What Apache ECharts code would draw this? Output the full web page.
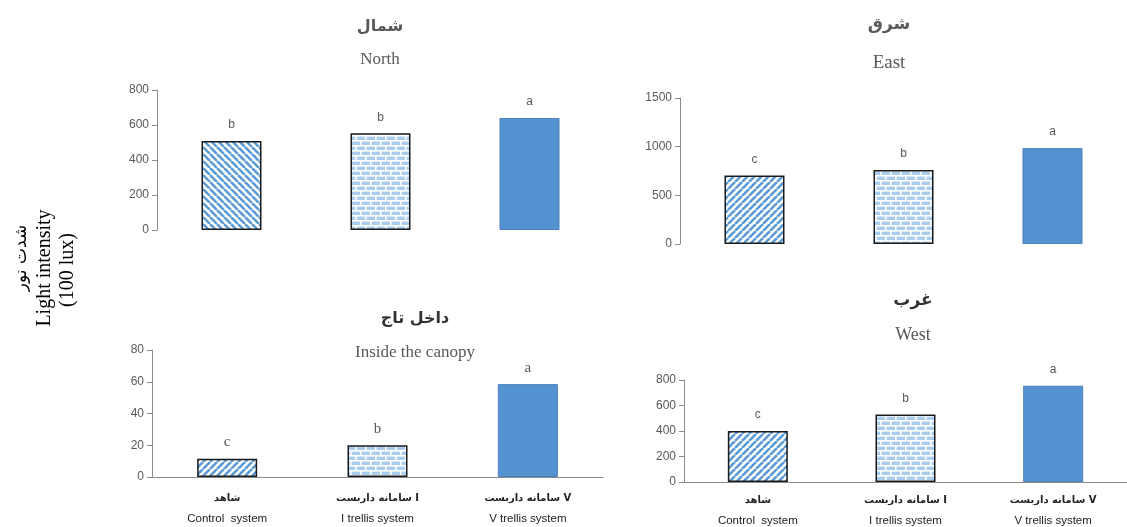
<!DOCTYPE html>
<html><head><meta charset="utf-8">
<script src="https://cdn.jsdelivr.net/npm/echarts@6/dist/echarts.min.js"></script>
<style>html,body{margin:0;padding:0;background:#fff}#c{width:1127px;height:527px}</style>
</head><body><div id="c"></div>
<script>
// ---- data ----
const categoriesFa = ['شاهد', 'سامانه داربست I', 'سامانه داربست V'];
const categoriesEn = ['Control  system', 'I trellis system', 'V trellis system'];
const northValues = [508, 553, 640];
const northLetters = ['b', 'b', 'a'];
const eastValues = [705, 760, 985];
const eastLetters = ['c', 'b', 'a'];
const canopyValues = [11.5, 20, 58.5];
const canopyLetters = ['c', 'b', 'a'];
const westValues = [400, 530, 755];
const westLetters = ['c', 'b', 'a'];
const northTicks = {min: 0, max: 800, interval: 200};
const eastTicks = {min: 0, max: 1500, interval: 500};
const canopyTicks = {min: 0, max: 80, interval: 20};
const westTicks = {min: 0, max: 800, interval: 200};

// ---- patterns ----
function stripes(dir) {
  const s = 7, c = document.createElement('canvas');
  c.width = s; c.height = s;
  const g = c.getContext('2d');
  g.fillStyle = '#ffffff'; g.fillRect(0, 0, s, s);
  g.strokeStyle = '#5b9bd5'; g.lineWidth = 2.6;
  for (const o of [-s, 0, s]) {
    g.beginPath();
    if (dir === 'back') { g.moveTo(o, 0); g.lineTo(o + s, s); }
    else { g.moveTo(o, s); g.lineTo(o + s, 0); }
    g.stroke();
  }
  return {image: c, repeat: 'repeat'};
}
function bricks() {
  const w = 20, h = 10, c = document.createElement('canvas');
  c.width = w; c.height = h;
  const g = c.getContext('2d');
  g.fillStyle = '#aacdee'; g.fillRect(0, 0, w, h);
  g.fillStyle = '#ffffff';
  g.fillRect(0, 0, w, 1.6); g.fillRect(0, 5, w, 1.6);
  g.fillRect(0, 0, 1.6, 5); g.fillRect(10, 0, 1.6, 5);
  g.fillRect(5, 5, 1.6, 5); g.fillRect(15, 5, 1.6, 5);
  return {image: c, repeat: 'repeat'};
}
const solidStyle = {color: '#5592d2', borderColor: '#4a7fb8', borderWidth: 1};
function styles(dir) {
  return [
    {color: stripes(dir), borderColor: '#1a1a1a', borderWidth: 1.5},
    {color: bricks(), borderColor: '#1a1a1a', borderWidth: 1.5},
    solidStyle
  ];
}

const gray = '#595959';
const grids = [
  {left: 157, top: 90, width: 447, height: 140},
  {left: 680, top: 98, width: 449, height: 146},
  {left: 152, top: 350, width: 451, height: 127},
  {left: 684, top: 380, width: 449, height: 103}
];
const tickSets = [northTicks, eastTicks, canopyTicks, westTicks];
const valueSets = [northValues, eastValues, canopyValues, westValues];
const letterSets = [northLetters, eastLetters, canopyLetters, westLetters];
const dirs = ['back', 'fwd', 'fwd', 'fwd'];

const xAxes = grids.map((g, i) => ({
  type: 'category', gridIndex: i, data: categoriesEn,
  axisLine: {show: i >= 2, lineStyle: {color: '#8c8c8c', width: 1}},
  axisTick: {show: false},
  axisLabel: i >= 2 ? {
    interval: 0, margin: i === 2 ? 10 : 7,
    formatter: (v, idx) => '{fa|' + categoriesFa[idx] + '}\n{en|' + v + '}',
    rich: {
      fa: {fontFamily: 'DejaVu Sans', fontSize: 10, fontWeight: 'bold', color: '#222', lineHeight: 22},
      en: {fontFamily: 'Liberation Sans', fontSize: 11.5, color: '#222', lineHeight: 20}
    }
  } : {show: false}
}));
const yAxes = grids.map((g, i) => ({
  type: 'value', gridIndex: i, min: tickSets[i].min, max: tickSets[i].max, interval: tickSets[i].interval,
  splitLine: {show: false},
  axisLine: {show: true, lineStyle: {color: '#8c8c8c', width: 1}},
  axisTick: {show: true, length: 5, lineStyle: {color: '#8c8c8c'}},
  axisLabel: {color: gray, fontFamily: 'Liberation Sans', fontSize: 12, margin: 8, formatter: v => String(v)}
}));
const series = grids.map((g, i) => {
  const st = styles(dirs[i]);
  return {
    type: 'bar', xAxisIndex: i, yAxisIndex: i, barWidth: 60,
    data: valueSets[i].map((v, k) => ({value: v, itemStyle: st[k]})),
    label: {
      show: true, position: 'top', distance: i === 2 ? 9 : 10,
      formatter: p => letterSets[i][p.dataIndex],
      color: gray, fontSize: i === 2 ? 15 : 12,
      fontFamily: i === 2 ? 'Liberation Serif' : 'Liberation Sans'
    }
  };
});

function txt(x, y, text, font, color, extra) {
  return Object.assign({
    type: 'text', x: x, y: y,
    style: {text: text, font: font, fill: color, align: 'center', verticalAlign: 'middle'}
  }, extra || {});
}
const graphic = [
  txt(380, 27, 'شمال', 'bold 16px "DejaVu Sans"', gray),
  txt(380, 60, 'North', '17px "Liberation Serif"', gray),
  txt(889, 25, 'شرق', 'bold 17px "DejaVu Sans"', gray),
  txt(889, 63, 'East', '19px "Liberation Serif"', gray),
  txt(415, 319, 'داخل تاج', 'bold 16px "DejaVu Sans"', '#333'),
  txt(415, 353, 'Inside the canopy', '17px "Liberation Serif"', gray),
  txt(913, 301, 'غرب', 'bold 17px "DejaVu Sans"', '#333'),
  txt(913, 335, 'West', '18px "Liberation Serif"', gray),
  txt(22, 258, 'شدت نور', '17px "DejaVu Sans"', '#000', {rotation: Math.PI / 2}),
  txt(45, 268, 'Light intensity', '20px "Liberation Serif"', '#000', {rotation: Math.PI / 2}),
  txt(68, 270, '(100 lux)', '20px "Liberation Serif"', '#000', {rotation: Math.PI / 2})
];

const chart = echarts.init(document.getElementById('c'));
chart.setOption({
  animation: false,
  backgroundColor: '#ffffff',
  grid: grids,
  xAxis: xAxes,
  yAxis: yAxes,
  series: series,
  graphic: graphic
});
</script></body></html>
